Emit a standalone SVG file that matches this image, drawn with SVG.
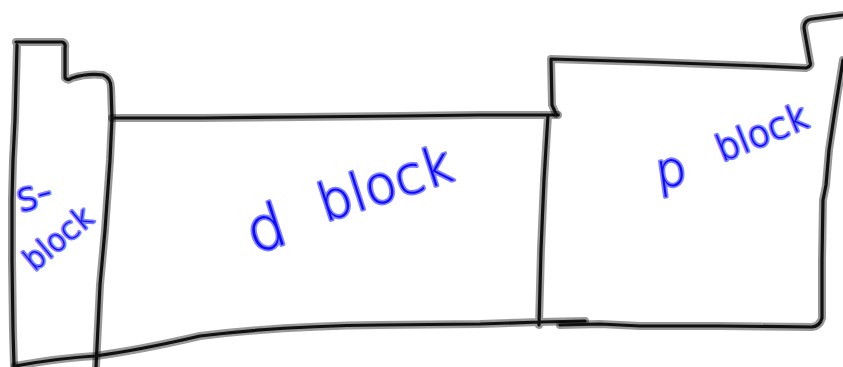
<svg xmlns="http://www.w3.org/2000/svg" xmlns:xlink="http://www.w3.org/1999/xlink" width="843" height="367" viewBox="0 0 843 367">
<style>
.halo{fill:none;stroke:#000;stroke-opacity:.4;stroke-width:8;stroke-linecap:round;stroke-linejoin:round}
.core{fill:none;stroke:#111;stroke-width:3.2;stroke-linecap:round;stroke-linejoin:round}
.lbl{font-family:"DejaVu Sans","Liberation Sans",sans-serif;font-weight:300;fill:#0a0aff;stroke:#8080ff;stroke-width:3.5;paint-order:stroke;stroke-linejoin:round}
</style>
<defs>
<path id="sOut" d="M16,42 L62,42 Q66,43 65,48 L65,78 Q68,81 72,78 Q88,73 103,75 Q111,78 111,88 L112,118 L110,160 L105,230 L100,285 L96,367 M17,45 L15,120 L13,160 L12,200 L12,260 L13,330 L14,366"/>
<path id="dOut" d="M112,118 L200,118 L300,117 L400,116 L480,115 L558,115 M548,115 L544,180 L541,250 L539,325 M15,366 Q60,358 95,356 Q140,350 200,336 Q280,326 380,325 L480,324 L540,322 L585,321"/>
<path id="pOut" d="M551,59 L552,105 L556,114 M551,59 L650,62 L760,66 L806,68 Q812,66 810,62 L804,28 Q804,20 812,19 L843,15 M843,60 L835,110 L829,150 L826,185 L823,200 L822,260 L822,318 Q820,326 812,327 L720,326 L640,326 L600,324 L560,325"/>
</defs>
<g id="s-block">
<use xlink:href="#sOut" class="halo"/>
<use xlink:href="#sOut" class="core"/>
<text class="lbl" font-size="40" transform="translate(20,212) rotate(-15)">s-</text>
<text class="lbl" font-size="30" transform="translate(34,272) rotate(-40)">block</text>
</g>
<g id="d-block">
<use xlink:href="#dOut" class="halo"/>
<use xlink:href="#dOut" class="core"/>
<text class="lbl" font-size="60" transform="translate(254,254) rotate(-18)">d</text>
<text class="lbl" font-size="52" transform="translate(325,222) rotate(-18)">block</text>
</g>
<g id="p-block">
<use xlink:href="#pOut" class="halo"/>
<use xlink:href="#pOut" class="core"/>
<text class="lbl" font-size="48" transform="translate(658,188) rotate(-8)">p</text>
<text class="lbl" font-size="36" transform="translate(722,162) rotate(-22)">block</text>
</g>
<g id="connectors"/>
</svg>
